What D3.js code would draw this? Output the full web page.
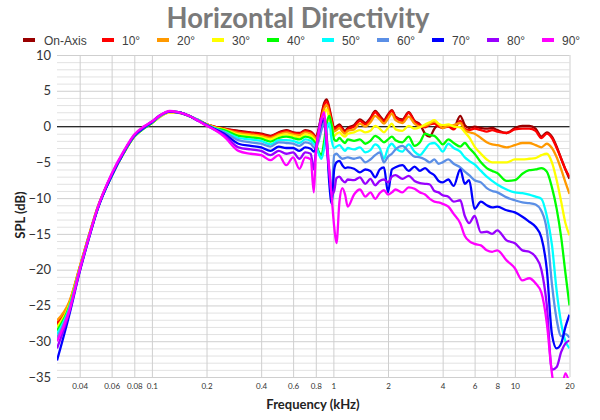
<!DOCTYPE html>
<html>
<head>
<meta charset="utf-8">
<script src="https://cdn.jsdelivr.net/npm/d3@7"></script>
<style>
  html, body { margin: 0; padding: 0; background: #ffffff; }
  svg { display: block; }
</style>
</head>
<body>
<svg id="chart" width="600" height="420"></svg>
<script>
// ---------- DATA ----------
const freqs = [
  0.03, 0.035, 0.04, 0.045, 0.05, 0.06, 0.07, 0.08, 0.09, 0.1, 0.11, 0.125, 0.14, 0.16, 0.18, 0.2,
  0.22, 0.25, 0.3, 0.35, 0.4, 0.45, 0.5, 0.55, 0.6, 0.65, 0.7, 0.75,
  0.78, 0.8, 0.83, 0.86, 0.89, 0.92, 0.95, 0.98, 1.01, 1.04, 1.08, 1.12, 1.16, 1.2,
  1.3, 1.4, 1.5, 1.6, 1.7, 1.8, 1.9, 2.0, 2.1, 2.2, 2.4, 2.6, 2.8, 3.0, 3.2, 3.4, 3.6, 3.8, 4.0, 4.3,
  4.6, 5.0, 5.3, 5.6, 6.0, 6.5, 7.0, 7.5, 8.0, 9.0, 10, 11, 12, 13, 14, 15, 16, 17, 18, 19, 20
];

const onAxis = [
  -27.8, -24.9, -19.8, -15.3, -11.5, -6.8, -3.6, -1.3, -0.2, 0.6, 1.4, 2.1, 2.0, 1.5, 0.9, 0.3,
  0.0, -0.3, -0.6, -0.8, -1.0, -1.3, -0.8, -0.5, -0.8, -0.9, -0.5, -0.7,
  -1.1, -1.5, -0.3, 1.7, 3.3, 3.8, 2.6, 1.0, -0.2, 0.0, 0.3, -0.2, -0.6, -0.2,
  0.2, 1.0, 0.5, 1.2, 2.2, 1.5, 0.9, 1.7, 2.3, 1.4, 1.0, 2.0, 0.8, 0.3, -1.0, -1.4, -0.3, 0.2, 0.0, 0.2,
  -0.2, 1.5, 0.2, -0.2, 0.0, -0.2, -0.3, -0.2, -0.5, -0.9, -0.2, 0.1, 0.1, -0.3, -1.4, -0.8, -1.4, -2.8, -4.5, -6.0, -7.3
];
const deg10 = [
  -27.5, -24.7, -19.7, -15.2, -11.5, -6.8, -3.6, -1.3, -0.2, 0.6, 1.4, 2.1, 2.0, 1.5, 0.9, 0.3,
  0.0, -0.3, -0.7, -0.9, -1.1, -1.4, -0.9, -0.6, -0.9, -1.0, -0.6, -0.8,
  -1.2, -1.6, -0.5, 1.5, 3.0, 3.5, 2.3, 0.8, -0.4, -0.2, 0.1, -0.4, -0.8, -0.4,
  0.0, 0.8, 0.3, 1.0, 2.0, 1.3, 0.7, 1.5, 2.2, 1.3, 0.8, 1.9, 0.7, 0.2, -0.1, 0.3, 0.4, 0.0, -0.2, 0.0,
  -0.4, 0.8, -0.3, -0.5, -0.3, -0.5, -0.7, -0.5, -0.7, -0.9, -0.4, -0.3, -0.3, -0.6, -1.6, -1.0, -1.6, -3.0, -4.5, -6.0, -7.0
];
const deg20 = [
  -27.1, -24.5, -19.6, -15.2, -11.4, -6.9, -3.7, -1.4, -0.2, 0.5, 1.3, 2.0, 1.9, 1.5, 0.9, 0.3,
  -0.1, -0.4, -0.9, -1.1, -1.3, -1.6, -1.1, -0.8, -1.1, -1.2, -0.8, -1.0,
  -1.4, -1.8, -0.8, 1.0, 2.5, 3.0, 1.8, 0.3, -0.7, -0.5, -0.2, -0.7, -1.0, -0.6,
  -0.4, 0.4, 0.0, 0.6, 1.5, 1.0, 0.4, 1.1, 1.8, 0.9, 0.5, 1.4, 0.4, 0.0, 0.1, 0.4, 0.7, 0.3, -0.2, 0.1,
  0.2, 0.5, -0.5, -0.8, -1.0, -1.6, -2.2, -2.5, -2.6, -2.9, -2.6, -2.3, -2.3, -2.6, -2.9, -2.4, -3.0, -4.3, -6.0, -7.8, -9.4
];
const deg30 = [
  -28.0, -25.0, -19.8, -15.3, -11.5, -6.9, -3.7, -1.4, -0.3, 0.5, 1.3, 2.0, 2.0, 1.5, 0.9, 0.3,
  -0.1, -0.4, -1.1, -1.3, -1.5, -1.8, -1.3, -1.1, -1.3, -1.5, -1.1, -1.3,
  -1.7, -2.0, -1.2, 0.3, 1.8, 2.4, 1.0, -0.5, -1.3, -1.0, -0.8, -1.2, -1.4, -1.0,
  -0.8, -0.5, -0.8, -0.6, 0.1, -0.3, -0.8, -0.2, 0.4, -0.4, -0.6, 0.1, -0.3, -0.1, 0.3, 0.6, 0.9, 0.4, 0.2, 0.3,
  0.0, -0.1, -0.8, -1.5, -2.8, -3.8, -4.6, -5.0, -5.0, -5.0, -4.6, -4.6, -4.5, -4.4, -4.0, -3.8, -5.0, -7.5, -10.5, -13.5, -15.2
];
const deg40 = [
  -28.5, -25.2, -19.9, -15.4, -11.6, -6.9, -3.7, -1.4, -0.3, 0.5, 1.4, 2.1, 2.0, 1.5, 0.9, 0.3,
  -0.2, -0.5, -1.3, -1.5, -1.7, -2.1, -1.6, -1.4, -1.6, -1.8, -1.4, -1.6,
  -2.0, -2.4, -3.5, -4.0, -2.0, 0.5, 1.5, 0.0, -1.8, -2.0, -1.6, -2.0, -2.3, -1.8,
  -2.0, -1.8, -2.4, -2.0, -1.3, -1.7, -2.2, -1.8, -1.4, -1.9, -2.2, -1.4, -2.7, -2.2, -1.0, -1.2, -1.3, -1.9, -2.5, -1.8,
  -2.3, -2.8, -2.3, -3.0, -3.8, -5.0, -5.8, -6.2, -6.5, -7.6, -7.5, -6.6, -6.1, -6.0, -5.8, -6.3, -8.5, -11.5, -15.5, -20.5, -25.0
];
const deg50 = [
  -29.0, -25.4, -20.0, -15.4, -11.6, -6.9, -3.6, -1.3, -0.2, 0.6, 1.4, 2.1, 2.0, 1.5, 0.9, 0.2,
  -0.2, -0.7, -1.6, -1.8, -2.0, -2.5, -1.9, -1.9, -2.0, -2.3, -1.8, -2.0,
  -2.4, -2.7, -3.8, -4.5, -3.0, -0.5, 0.5, -2.0, -3.0, -2.8, -2.6, -3.0, -3.4, -3.0,
  -3.2, -2.9, -3.6, -3.3, -2.5, -3.0, -4.5, -3.0, -2.4, -3.0, -3.5, -2.5, -3.5, -4.0, -3.2, -2.4, -2.3, -2.8, -3.5, -2.4,
  -3.0, -3.5, -4.3, -4.8, -5.3, -6.2, -7.0, -7.6, -8.1, -8.8, -9.2, -9.3, -9.5, -9.8, -10.1, -12.5, -16.5, -23.0, -27.5, -30.0, -31.0
];
const deg60 = [
  -29.5, -25.6, -20.1, -15.5, -11.6, -6.8, -3.6, -1.3, -0.2, 0.6, 1.4, 2.1, 2.0, 1.5, 0.9, 0.2,
  -0.3, -0.8, -1.9, -2.2, -2.4, -2.8, -2.2, -2.3, -2.4, -2.7, -2.2, -2.4,
  -2.9, -3.0, -2.0, -0.5, 0.5, -1.5, -7.0, -9.0, -4.0, -3.8, -4.2, -4.5, -4.4, -4.3,
  -4.5, -4.3, -5.0, -4.6, -4.0, -3.6, -5.0, -4.2, -3.8, -3.2, -2.7, -3.5, -4.2, -4.3, -4.6, -5.0, -4.6, -5.2, -5.0, -4.6,
  -5.2, -5.7, -6.3, -6.8, -7.5, -7.8, -8.6, -9.0, -9.2, -9.9, -10.3, -10.6, -10.7, -10.9, -11.8, -14.5, -22.0, -27.0, -29.3, -29.0, -29.5
];
const deg70 = [
  -32.7, -26.4, -20.3, -15.6, -11.7, -6.9, -3.6, -1.3, -0.2, 0.6, 1.5, 2.1, 2.0, 1.5, 0.8, 0.2,
  -0.3, -1.0, -2.4, -2.7, -2.9, -3.4, -2.8, -3.0, -3.0, -3.4, -2.9, -3.1,
  -3.5, -3.0, -1.0, 0.5, 1.0, -2.0, -8.0, -10.8, -6.0, -5.0, -4.8, -5.4, -5.8, -5.7,
  -5.9, -6.4, -6.0, -6.2, -7.1, -6.0, -5.7, -9.2, -6.0, -5.7, -5.4, -6.2, -5.6, -6.2, -5.8, -6.4, -6.8, -7.6, -7.8, -7.4,
  -8.3, -6.0, -8.0, -7.5, -11.5, -10.5, -11.0, -11.3, -11.2, -11.7, -12.0, -12.6, -13.3, -14.0, -15.5, -20.0, -29.0, -31.0, -30.3, -28.0, -26.3
];
const deg80 = [
  -31.0, -26.0, -20.2, -15.5, -11.6, -6.7, -3.5, -1.2, -0.1, 0.7, 1.5, 2.1, 2.0, 1.5, 0.8, 0.2,
  -0.4, -1.2, -2.9, -3.2, -3.4, -4.0, -3.4, -3.8, -3.6, -4.5, -3.6, -3.8,
  -6.0, -3.5, -0.5, 1.2, 1.0, -3.0, -6.5, -9.5, -9.0, -7.2, -7.0, -7.5, -7.8, -7.4,
  -7.5, -7.1, -8.0, -7.3, -8.2, -7.6, -7.4, -7.8, -7.0, -6.8, -7.3, -6.9, -7.6, -7.9, -8.0, -8.1, -9.0, -9.2, -9.6, -9.8,
  -10.5, -10.3, -12.5, -13.5, -12.5, -14.8, -14.7, -15.0, -14.5, -15.9, -16.3, -17.3, -17.5, -18.2, -20.0, -25.0, -34.0, -33.6, -31.5, -30.3, -29.9
];
const deg90 = [
  -30.0, -25.8, -20.0, -15.4, -11.5, -6.6, -3.4, -1.1, 0.0, 0.7, 1.5, 2.2, 2.0, 1.5, 0.8, 0.1,
  -0.4, -1.4, -3.4, -3.8, -4.0, -4.7, -4.0, -5.4, -4.3, -5.9, -4.3, -4.6,
  -9.2, -4.0, -1.0, 1.0, 2.0, -2.0, -6.0, -10.0, -14.0, -16.3, -10.5, -8.6, -9.5, -11.2,
  -9.5, -8.8, -9.8, -9.2, -10.1, -9.3, -8.9, -9.5, -9.2, -8.8, -9.2, -8.5, -8.7, -9.2, -9.5, -10.1, -10.5, -10.6, -10.8, -11.2,
  -12.2, -13.5, -15.3, -16.0, -16.4, -16.6, -17.3, -17.5, -17.3, -18.7, -19.8, -21.5, -21.2, -21.9, -23.2, -27.5, -34.5, -38.0, -37.0, -34.5, -36.0
];

const seriesNames = ["On-Axis", "10°", "20°", "30°", "40°", "50°", "60°", "70°", "80°", "90°"];
const seriesValues = [onAxis, deg10, deg20, deg30, deg40, deg50, deg60, deg70, deg80, deg90];
const seriesColors = ["#990000", "#ff0000", "#ff9900", "#ffff00", "#00ff00", "#00ffff", "#5b8fe6", "#0000ff", "#9900ff", "#ff00ff"];

const xTickValues = [0.04, 0.06, 0.08, 0.1, 0.2, 0.4, 0.6, 0.8, 1, 2, 4, 6, 8, 10, 20];
const xTickLabels = ["0.04", "0.06", "0.08", "0.1", "0.2", "0.4", "0.6", "0.8", "1", "2", "4", "6", "8", "10", "20"];
const yMajorTicks = [-35, -30, -25, -20, -15, -10, -5, 0, 5, 10];

// ---------- CHART ----------
const svg = d3.select("#chart");
const L = 57, R = 569.5, T = 55, B = 377;

const x = d3.scaleLog().domain([0.03, 20]).range([L, R]);
const y = d3.scaleLinear().domain([-35, 10]).range([B, T]);

// horizontal gridlines (minor every 1 dB)
const minorTicks = d3.range(-35, 11, 1);
svg.append("g")
  .attr("transform", `translate(${L},0)`)
  .call(d3.axisLeft(y).tickValues(minorTicks).tickSize(-(R - L)).tickFormat(""))
  .call(g => g.select(".domain").remove())
  .call(g => g.selectAll("line").attr("stroke", d => d % 5 === 0 ? "#cfcfcf" : "#e2e2e2").attr("stroke-width", 1));

// vertical gridlines
svg.append("g")
  .attr("transform", `translate(0,${B})`)
  .call(d3.axisBottom(x).tickValues(xTickValues).tickSize(-(B - T)).tickFormat(""))
  .call(g => g.select(".domain").remove())
  .call(g => g.selectAll("line").attr("stroke", "#cfcfcf").attr("stroke-width", 1));

// zero line
svg.append("line")
  .attr("x1", L).attr("x2", R)
  .attr("y1", y(0)).attr("y2", y(0))
  .attr("stroke", "#2b2b2b").attr("stroke-width", 1.2);

// y labels
svg.append("g")
  .attr("transform", `translate(${L},0)`)
  .call(d3.axisLeft(y).tickValues(yMajorTicks).tickSize(0).tickPadding(6).tickFormat(d3.format("d")))
  .call(g => g.select(".domain").remove())
  .call(g => g.selectAll("text")
    .attr("font-family", "Lato, 'Open Sans', sans-serif")
    .attr("font-size", 13)
    .attr("fill", "#333"));

// x labels
svg.append("g")
  .attr("transform", `translate(0,${B})`)
  .call(d3.axisBottom(x).tickValues(xTickValues).tickSize(0).tickPadding(6)
    .tickFormat((d, i) => xTickLabels[i]))
  .call(g => g.select(".domain").remove())
  .call(g => g.selectAll("text")
    .attr("font-family", "Lato, 'Open Sans', sans-serif")
    .attr("font-size", 8)
    .attr("fill", "#333"));

// clip
svg.append("defs").append("clipPath").attr("id", "plotclip")
  .append("rect").attr("x", L).attr("y", T).attr("width", R - L).attr("height", B - T + 1);

const line = d3.line()
  .x(d => x(d[0]))
  .y(d => y(d[1]))
  .curve(d3.curveMonotoneX);

const gLines = svg.append("g").attr("clip-path", "url(#plotclip)");
seriesValues.forEach((vals, i) => {
  gLines.append("path")
    .datum(d3.zip(freqs, vals))
    .attr("fill", "none")
    .attr("stroke", seriesColors[i])
    .attr("stroke-width", 2.3)
    .attr("stroke-linejoin", "round")
    .attr("d", line);
});

// title
svg.append("text")
  .attr("x", 298).attr("y", 28)
  .attr("text-anchor", "middle")
  .attr("font-family", "Lato, 'Open Sans', sans-serif")
  .attr("font-weight", "bold")
  .attr("font-size", 28)
  .attr("fill", "#7a7a7a")
  .attr("textLength", 263)
  .attr("lengthAdjust", "spacingAndGlyphs")
  .text("Horizontal Directivity");

// legend
const legend = svg.append("g");
seriesNames.forEach((name, i) => {
  const lx = i === 0 ? 23 : 102 + 55 * (i - 1);
  const g = legend.append("g").attr("transform", `translate(${lx},40)`);
  g.append("rect").attr("x", 0).attr("y", -2).attr("width", 12).attr("height", 4).attr("fill", seriesColors[i]);
  g.append("text")
    .attr("x", i === 0 ? 21 : 20).attr("y", 4.5)
    .attr("font-family", "'Liberation Sans', Arial, sans-serif")
    .attr("font-size", 12)
    .attr("fill", "#404040")
    .text(name);
});

// axis titles
svg.append("text")
  .attr("x", 313).attr("y", 409)
  .attr("text-anchor", "middle")
  .attr("font-family", "Lato, 'Open Sans', sans-serif")
  .attr("font-weight", "bold")
  .attr("font-size", 13)
  .attr("fill", "#222")
  .text("Frequency (kHz)");

svg.append("text")
  .attr("transform", "translate(25,215) rotate(-90)")
  .attr("text-anchor", "middle")
  .attr("font-family", "Lato, 'Open Sans', sans-serif")
  .attr("font-weight", "bold")
  .attr("font-size", 13)
  .attr("fill", "#222")
  .text("SPL (dB)");
</script>
</body>
</html>
